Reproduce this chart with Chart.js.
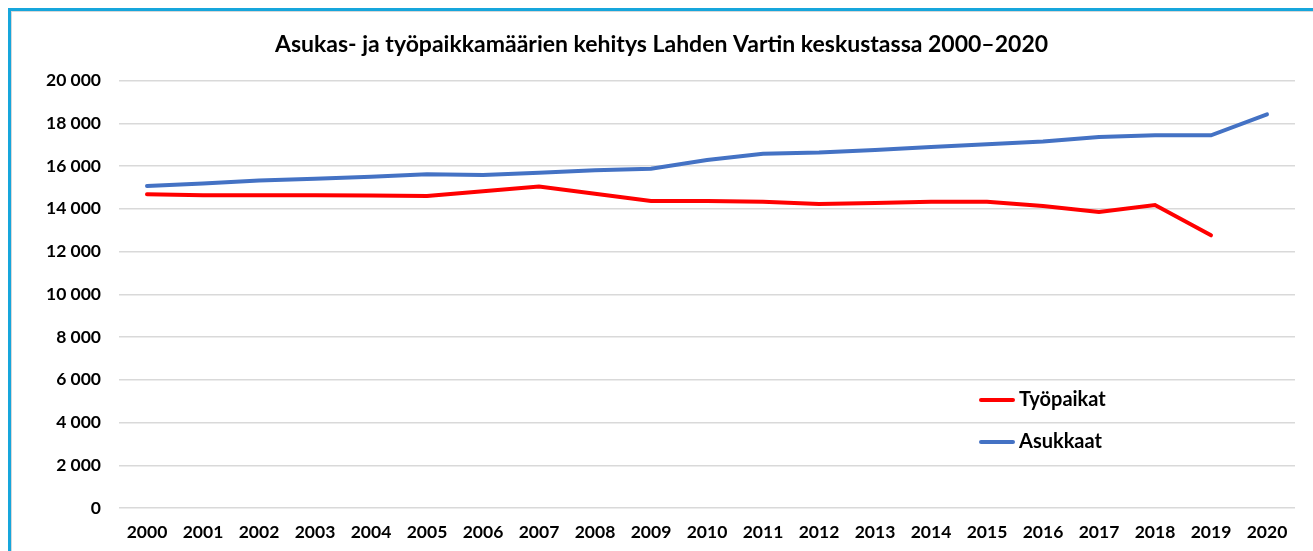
<!DOCTYPE html>
<html>
<head>
<meta charset="utf-8">
<script src="https://cdn.jsdelivr.net/npm/chart.js@4.4.1/dist/chart.umd.min.js"></script>
<style>
  html,body{margin:0;padding:0;background:#fff;}
  #wrap{position:relative;width:1313px;height:551px;overflow:hidden;}
  #frame{position:absolute;left:8px;top:8px;width:1400px;height:600px;
         border-left:3px solid #17a6dc;border-top:3px solid #17a6dc;box-sizing:border-box;}
  #frame2{position:absolute;left:11px;top:11px;width:1400px;height:600px;
         border-left:1px solid #d8d8d8;border-top:1px solid #d8d8d8;box-sizing:border-box;}
  canvas{position:absolute;left:0;top:0;}
</style>
</head>
<body>
<div id="wrap">
  <div id="frame"></div><div id="frame2"></div>
  <canvas id="chart" width="1313" height="551"></canvas>
</div>
<script>
/* ---------- DATA ---------- */
const years = ['2000','2001','2002','2003','2004','2005','2006','2007','2008','2009','2010',
               '2011','2012','2013','2014','2015','2016','2017','2018','2019','2020'];
const tyopaikat = [14680,14640,14640,14640,14620,14605,14820,15040,14710,14370,14370,
                   14330,14220,14270,14330,14330,14130,13850,14180,12760,null];
const asukkaat  = [15070,15190,15330,15410,15500,15620,15580,15690,15800,15880,16280,
                   16580,16630,16750,16890,17020,17150,17360,17440,17440,18420];
const titleText = 'Asukas- ja työpaikkamäärien kehitys Lahden Vartin keskustassa 2000\u20132020';
const fontFam = 'Lato, "Open Sans", sans-serif';

/* ---------- HELPERS ---------- */
const fmt = v => String(v).replace(/\B(?=(\d{3})+(?!\d))/g,' ');

// legend drawn inside the plot area
const innerLegend = {
  id:'innerLegend',
  afterDraw(chart){
    const {ctx} = chart;
    const items = [[0,400],[1,442]];
    ctx.save();
    ctx.font = `bold 20px ${fontFam}`;
    ctx.textBaseline = 'middle';
    items.forEach(([i,y])=>{
      const ds = chart.data.datasets[i];
      ctx.strokeStyle = ds.borderColor; ctx.lineWidth = 4; ctx.lineCap = 'round';
      ctx.beginPath(); ctx.moveTo(981,y); ctx.lineTo(1013,y); ctx.stroke();
      ctx.fillStyle = '#000'; ctx.fillText(ds.label,1019,y);
    });
    ctx.restore();
  }
};

/* ---------- CHART ---------- */
new Chart(document.getElementById('chart').getContext('2d'),{
  type:'line',
  data:{labels:years,datasets:[
    {label:'Työpaikat',data:tyopaikat,borderColor:'#ff0000',backgroundColor:'#ff0000',
     borderWidth:4,pointRadius:0,tension:0,borderCapStyle:'round'},
    {label:'Asukkaat',data:asukkaat,borderColor:'#4472c4',backgroundColor:'#4472c4',
     borderWidth:4,pointRadius:0,tension:0,borderCapStyle:'round'}
  ]},
  options:{
    responsive:false,animation:false,
    layout:{padding:{top:22,left:28,right:18,bottom:-6}},
    plugins:{
      legend:{display:false},tooltip:{enabled:false},
      title:{display:true,text:titleText,color:'#000',
             font:{family:fontFam,size:23,weight:'bold'},padding:{top:9,bottom:22}}
    },
    scales:{
      x:{offset:true,grid:{display:false,drawTicks:false},border:{display:false},
         ticks:{color:'#000',font:{family:fontFam,size:17.5,weight:'bold'},padding:14,maxRotation:0}},
      y:{min:0,max:20000,grid:{color:'#d9d9d9',lineWidth:1.5,drawTicks:false},border:{display:false},
         ticks:{stepSize:2000,color:'#000',padding:18,font:{family:fontFam,size:17.5,weight:'bold'},callback:v=>fmt(v)}}
    }
  },
  plugins:[innerLegend]
});
</script>
</body>
</html>
